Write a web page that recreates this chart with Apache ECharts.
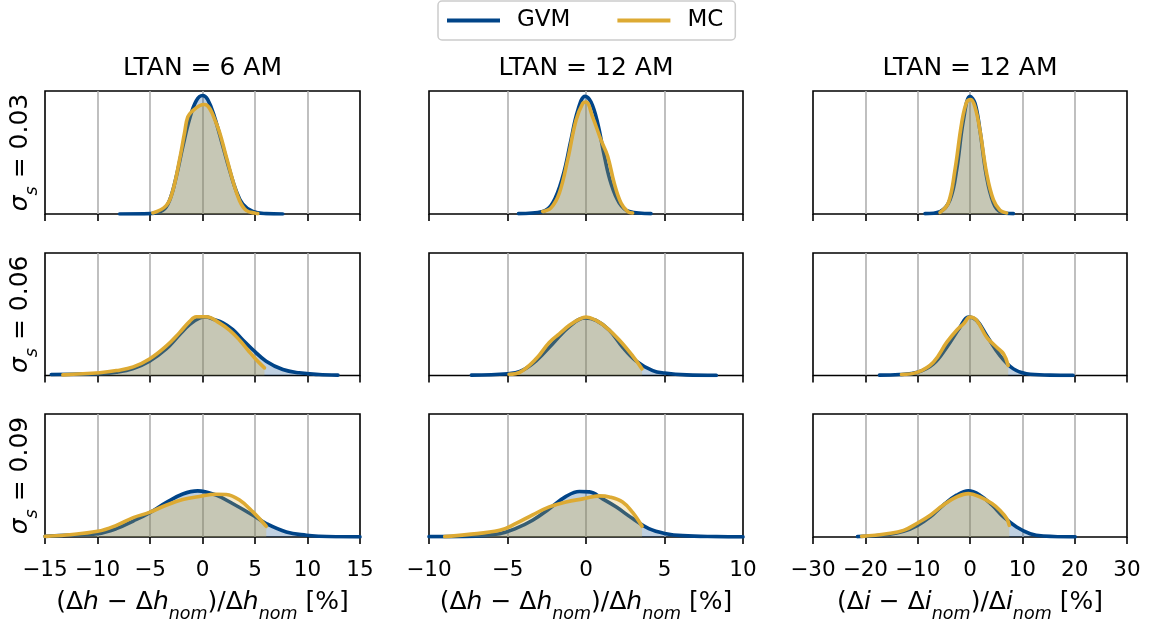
<!DOCTYPE html>
<html><head><meta charset="utf-8">
<script src="https://cdn.jsdelivr.net/npm/echarts@6/dist/echarts.min.js"></script>
<style>html,body{margin:0;padding:0;background:#fff}#chart{width:1158px;height:625px}</style>
</head><body><div id="chart"></div>
<script>
// ---------- data (density, relative to panel height) ----------
const seriesNames = ['GVM', 'MC'];
const colTitles = ['LTAN = 6 AM', 'LTAN = 12 AM', 'LTAN = 12 AM'];
const rowSigmas = ['0.03', '0.06', '0.09'];
const xMins = [-15, -10, -30];
const xMaxs = [15, 10, 30];
const xSteps = [5, 5, 10];
const xVars = ['h', 'h', 'i'];

// column 1 : LTAN 6 AM, altitude
const gvm_c1_r1 = [[-7.9,0],[-4.95,0.003],[-3.78,0.03],[-3.14,0.11],[-2.51,0.30],[-1.87,0.55],[-1.24,0.77],[-0.6,0.92],[0,0.964],[0.5,0.93],[1.14,0.79],[1.94,0.55],[2.57,0.36],[3.2,0.19],[3.84,0.08],[4.79,0.02],[6.06,0.003],[7.65,0]];
const mc_c1_r1  = [[-4.73,0.008],[-3.46,0.068],[-2.83,0.19],[-2.19,0.44],[-1.71,0.66],[-1.40,0.79],[-0.92,0.84],[-0.29,0.88],[0.19,0.89],[1.30,0.74],[2.25,0.47],[2.89,0.27],[3.52,0.11],[4.16,0.03],[5.11,0.005],[5.27,0.003]];
const gvm_c1_r2 = [[-14.4,0.008],[-11.4,0.011],[-9.8,0.014],[-8.2,0.027],[-6.6,0.057],[-5.05,0.117],[-3.46,0.217],[-2.19,0.333],[-1.24,0.415],[-0.29,0.469],[0.35,0.477],[0.98,0.46],[1.94,0.43],[2.89,0.374],[3.84,0.29],[4.8,0.21],[6.06,0.117],[7.65,0.049],[9.2,0.022],[11.1,0.008],[12.9,0.003]];
const mc_c1_r2  = [[-13.3,0.005],[-9.8,0.022],[-8.2,0.04],[-6.6,0.07],[-5.05,0.135],[-3.46,0.24],[-2.19,0.35],[-1.24,0.44],[-0.6,0.48],[0.35,0.48],[1.6,0.43],[2.57,0.37],[3.52,0.29],[4.3,0.21],[5.1,0.13],[5.9,0.062]];
const gvm_c1_r3 = [[-15,0.005],[-13,0.014],[-10,0.027],[-8.2,0.068],[-6.6,0.13],[-5.06,0.196],[-3.47,0.28],[-1.88,0.35],[-0.45,0.375],[1.3,0.34],[2.9,0.27],[4.8,0.177],[6.07,0.109],[7.98,0.041],[9.9,0.014],[11.1,0.006],[13,0.002],[15,0.001]];
const mc_c1_r3  = [[-15,0.005],[-13,0.016],[-10,0.046],[-8.2,0.095],[-6.6,0.158],[-5.06,0.2],[-3.47,0.258],[-1.88,0.304],[-0.29,0.33],[1.3,0.348],[2.26,0.345],[3.53,0.30],[4.8,0.204],[6.07,0.087]];

// column 2 : LTAN 12 AM, altitude
const gvm_c2_r1 = [[-4.3,0.003],[-2.76,0.02],[-2.12,0.09],[-1.49,0.30],[-0.96,0.60],[-0.53,0.84],[-0.06,0.957],[0.32,0.91],[0.74,0.74],[1.17,0.47],[1.59,0.25],[2.12,0.09],[2.76,0.02],[4.14,0.003]];
const mc_c2_r1  = [[-2.76,0.02],[-2.23,0.05],[-1.7,0.17],[-1.17,0.44],[-0.64,0.76],[-0.21,0.90],[0,0.91],[0.42,0.79],[0.96,0.60],[1.38,0.47],[1.8,0.25],[2.23,0.09],[2.66,0.02],[2.97,0.008]];
const gvm_c2_r2 = [[-7.3,0.003],[-5,0.014],[-4.2,0.033],[-3.18,0.12],[-2.12,0.26],[-1.06,0.40],[-0.06,0.47],[0.64,0.45],[1.49,0.37],[2.34,0.23],[3.18,0.12],[4.25,0.04],[5,0.02],[6.4,0.005],[8.3,0.001]];
const mc_c2_r2  = [[-4.9,0.01],[-4.2,0.027],[-3.18,0.136],[-2.34,0.27],[-1.7,0.34],[-1.06,0.41],[-0.42,0.46],[0,0.477],[0.64,0.45],[1.27,0.395],[2.12,0.29],[2.97,0.16],[3.57,0.054]];
const gvm_c2_r3 = [[-10,0.003],[-7.6,0.005],[-5.5,0.027],[-4.46,0.07],[-3.4,0.136],[-2.34,0.23],[-1.27,0.33],[-0.42,0.37],[0.21,0.367],[1.06,0.31],[1.91,0.245],[2.97,0.15],[4.0,0.068],[5.1,0.027],[6.16,0.011],[8.3,0.003],[10,0.001]];
const mc_c2_r3  = [[-9.0,0.003],[-7.6,0.019],[-5.5,0.054],[-4.46,0.11],[-3.4,0.18],[-2.34,0.245],[-1.27,0.285],[-0.21,0.31],[0.85,0.334],[1.49,0.326],[2.33,0.285],[2.97,0.2],[3.57,0.087]];

// column 3 : LTAN 12 AM, inclination
const gvm_c3_r1 = [[-8.6,0.003],[-5.73,0.02],[-3.82,0.116],[-2.55,0.36],[-1.27,0.76],[0,0.957],[0.96,0.90],[1.9,0.68],[3.18,0.30],[4.46,0.09],[5.73,0.02],[8.3,0.003]];
const mc_c3_r1  = [[-5.73,0.013],[-4.14,0.09],[-2.87,0.36],[-1.59,0.74],[-0.64,0.91],[0.13,0.93],[0.96,0.87],[1.9,0.68],[3.18,0.33],[4.46,0.116],[5.73,0.03],[7.0,0.008]];
const gvm_c3_r2 = [[-17.3,0.003],[-13.5,0.008],[-10,0.027],[-7.0,0.095],[-4.46,0.23],[-1.9,0.395],[-0.32,0.477],[1.27,0.45],[3.18,0.327],[5.73,0.163],[8.3,0.054],[10.8,0.014],[15.3,0.003],[19.7,0.001]];
const mc_c3_r2  = [[-13.1,0.008],[-10,0.027],[-7.0,0.109],[-4.46,0.27],[-2.55,0.37],[-1.27,0.42],[0,0.477],[1.27,0.45],[3.18,0.313],[5.1,0.23],[6.4,0.177],[7.3,0.082]];
const gvm_c3_r3 = [[-21.5,0.003],[-19.1,0.008],[-15.9,0.019],[-12.7,0.046],[-10,0.095],[-7.6,0.163],[-5.1,0.26],[-2.55,0.34],[-0.3,0.375],[1.9,0.34],[4.2,0.26],[6.4,0.163],[8.9,0.082],[11.5,0.027],[14,0.008],[20.1,0.001]];
const mc_c3_r3  = [[-20.7,0.005],[-15.9,0.027],[-12.7,0.054],[-10,0.114],[-7.6,0.177],[-5.1,0.26],[-2.55,0.326],[-0.3,0.353],[1.9,0.326],[4.2,0.272],[5.7,0.217],[7.0,0.15],[7.5,0.095]];

const panelData = [
  [[gvm_c1_r1, mc_c1_r1], [gvm_c2_r1, mc_c2_r1], [gvm_c3_r1, mc_c3_r1]],
  [[gvm_c1_r2, mc_c1_r2], [gvm_c2_r2, mc_c2_r2], [gvm_c3_r2, mc_c3_r2]],
  [[gvm_c1_r3, mc_c1_r3], [gvm_c2_r3, mc_c2_r3], [gvm_c3_r3, mc_c3_r3]]
];

// ---------- layout / style ----------
const FONT = 'DejaVu Sans';
const colors = ['#004488', '#DDAA33'];
const colLeft = [45, 429, 813];
const colWidth = [315, 314, 314];
const rowTop = [91, 253, 414];
const rowHeight = [123, 122.5, 123];

const grids = [], xAxes = [], yAxes = [], series = [], titles = [];
const richDefs = {
  it: {fontStyle: 'italic', fontSize: 25, fontFamily: FONT, color: '#000'},
  sub: {fontStyle: 'italic', fontSize: 17.5, fontFamily: FONT, color: '#000', padding: [12, 0, -12, 0]},
  n: {fontSize: 25, fontFamily: FONT, color: '#000'}
};

for (let c = 0; c < 3; c++) {
  titles.push({
    text: colTitles[c], left: colLeft[c] + colWidth[c] / 2, top: 56, textAlign: 'center', padding: 0,
    textStyle: {fontSize: 25, fontWeight: 'normal', fontFamily: FONT, color: '#000'}
  });
}

let idx = 0;
for (let r = 0; r < 3; r++) {
  for (let c = 0; c < 3; c++) {
    grids.push({left: colLeft[c], top: rowTop[r], width: colWidth[c], height: rowHeight[r],
      show: true, borderColor: '#000', borderWidth: 1.6, backgroundColor: 'transparent',
      containLabel: false, outerBoundsMode: 'none'});
    const v = xVars[c];
    xAxes.push({
      type: 'value', gridIndex: idx, min: xMins[c], max: xMaxs[c], interval: xSteps[c],
      axisLine: {show: false},
      axisTick: {show: true, length: 7, lineStyle: {color: '#000', width: 1.6}},
      axisLabel: {show: r === 2, fontSize: 21.5, fontFamily: FONT, color: '#000', margin: 22,
        formatter: val => String(val).replace('-', '\u2212')},
      splitLine: {show: true, showMinLine: false, showMaxLine: false, lineStyle: {color: '#b0b0b0', width: 1.6}},
      name: r === 2 ? '(Δ{it|' + v + '} − Δ{it|' + v + '}{sub|nom})/Δ{it|' + v + '}{sub|nom} [%]' : '',
      nameLocation: 'middle', nameGap: 53,
      nameTextStyle: {fontSize: 25, fontFamily: FONT, color: '#000', rich: richDefs}
    });
    yAxes.push({
      type: 'value', gridIndex: idx, min: 0, max: 1,
      axisLine: {show: false}, axisTick: {show: false}, axisLabel: {show: false}, splitLine: {show: false},
      name: c === 0 ? '{it|σ}{sub|s}{n| = ' + rowSigmas[r] + '}' : '',
      nameLocation: 'middle', nameRotate: 90, nameGap: 12,
      nameTextStyle: {fontSize: 25, fontFamily: FONT, color: '#000', rich: richDefs}
    });
    for (let s = 0; s < 2; s++) {
      series.push({
        name: seriesNames[s], type: 'line', xAxisIndex: idx, yAxisIndex: idx,
        data: panelData[r][c][s], showSymbol: false, symbol: 'none', smooth: 0.4,
        lineStyle: {color: colors[s], width: 3.6, join: 'round', cap: 'round'},
        itemStyle: {color: colors[s]},
        areaStyle: {color: colors[s], opacity: 0.25},
        z: 2 + s, animation: false
      });
    }
    idx++;
  }
}

const chart = echarts.init(document.getElementById('chart'), null, {renderer: 'canvas'});
chart.setOption({
  animation: false,
  backgroundColor: '#fff',
  title: titles,
  legend: {
    data: seriesNames, left: 438, top: 1, icon: 'rect', itemWidth: 53, itemHeight: 4, itemGap: 47,
    padding: [8, 12, 8, 9], borderColor: '#cccccc', borderWidth: 1.5, borderRadius: 4,
    textStyle: {fontSize: 23, fontFamily: FONT, color: '#000', padding: [0, 0, 0, 12]}
  },
  grid: grids, xAxis: xAxes, yAxis: yAxes, series: series
});
</script></body></html>
